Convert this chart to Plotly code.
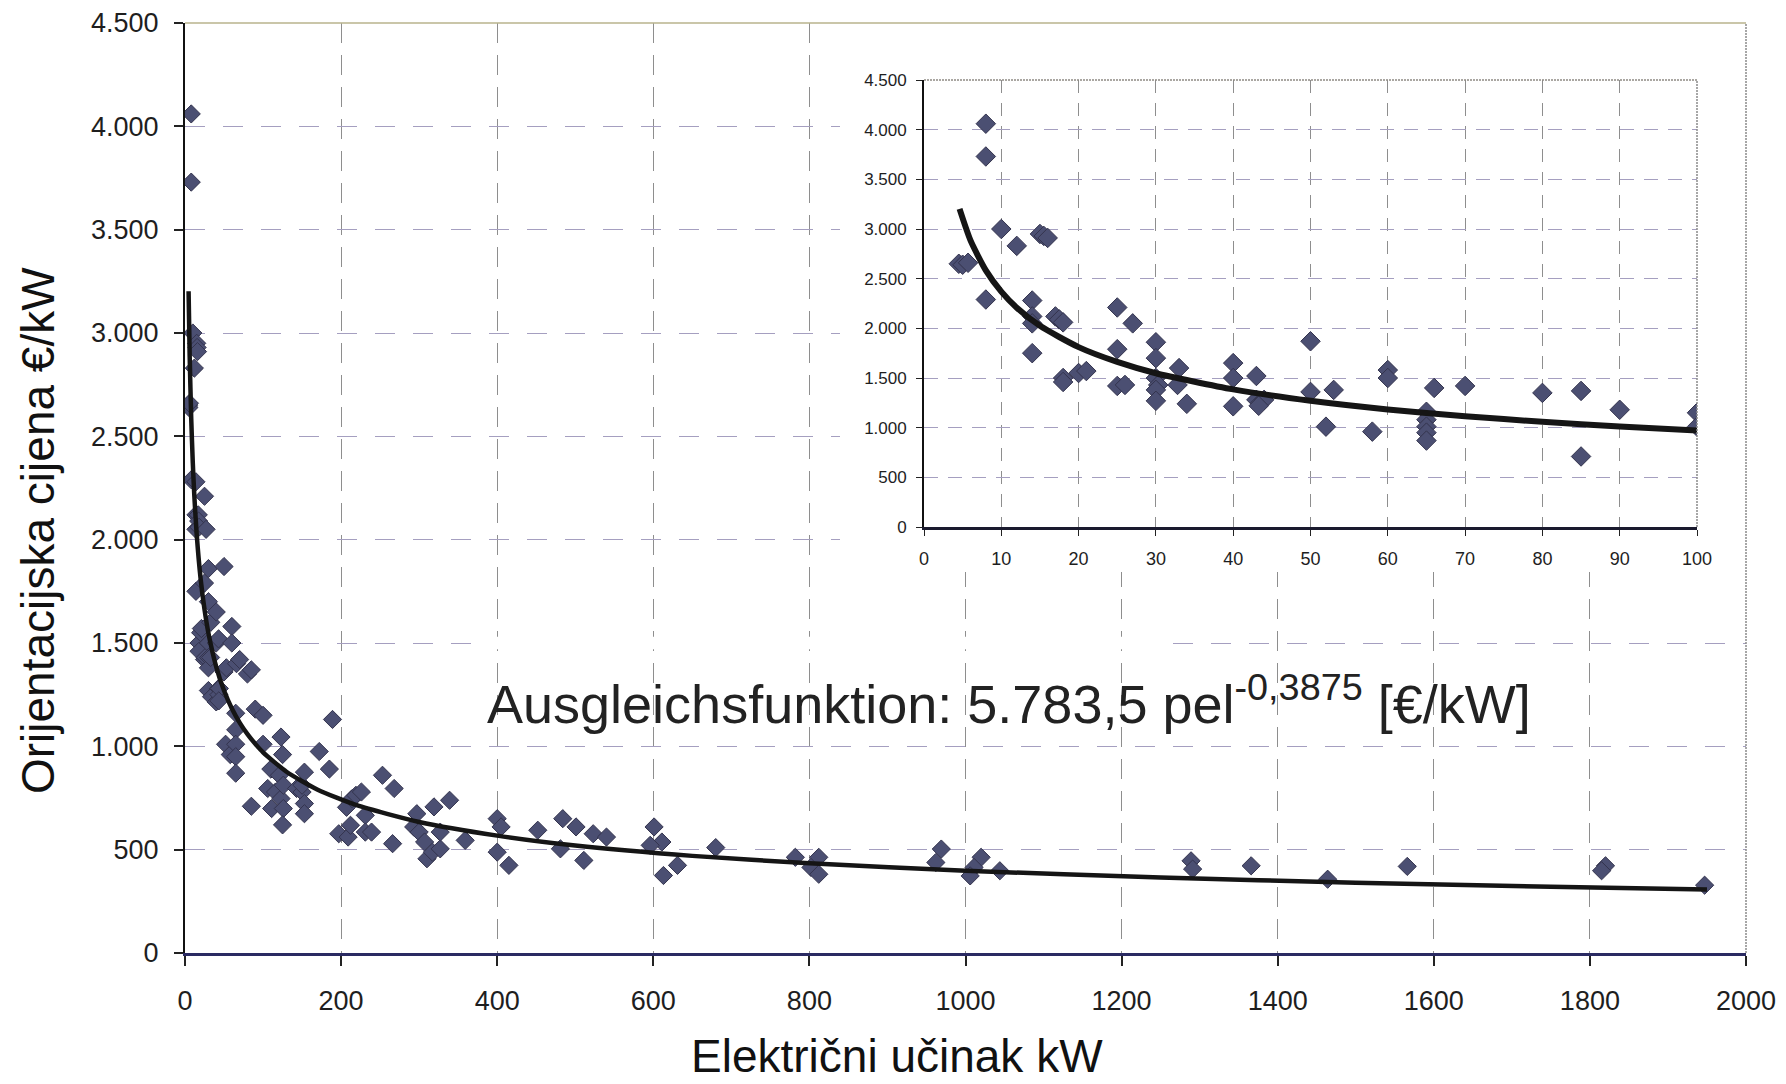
import plotly.graph_objects as go

# ---------------- data ----------------
power_kw = [
    4.5, 5, 5.7, 8, 8, 8, 10, 12, 15, 15.5, 16, 14, 14, 14, 14, 17, 17.5, 18, 18, 18,
    20, 21, 25, 27, 25, 25, 26, 30, 30, 30, 30.3, 30, 30, 33, 32.8, 34, 40, 40, 40,
    43, 43, 43.5, 44, 43.3, 50, 50, 52, 53, 58, 60, 60, 65, 65, 65, 65, 65, 66, 70,
    80, 85, 85, 90, 100, 100,
    106, 110, 111, 116, 121, 123, 123, 125, 126, 126, 125, 143, 150, 150, 153, 153, 153,
    172, 185, 189, 197, 207, 209, 212, 214, 219, 226, 231, 231, 239, 253, 268, 266,
    293, 297, 300, 307, 310, 317, 327, 319, 327, 339, 359, 400, 405, 400, 415, 452,
    484, 481, 501, 511, 523, 540, 601, 611, 596, 613, 631, 680, 782, 812, 802, 812,
    969, 962, 1020, 1011, 1006, 1044, 1289, 1291, 1366, 1464, 1566, 1820, 1815, 1947,
]
price_eur_kw = [
    2650, 2640, 2660, 4060, 3730, 2290, 3000, 2830, 2950, 2930, 2910, 2280, 2120, 2050, 1750, 2120, 2090, 2060, 1500, 1460,
    1550, 1570, 2210, 2050, 1790, 1420, 1430, 1860, 1700, 1500, 1430, 1380, 1270, 1600, 1430, 1240, 1650, 1500, 1215,
    1520, 1280, 1250, 1280, 1220, 1870, 1360, 1010, 1380, 960, 1580, 1500, 1160, 1080, 1010, 950, 870, 1400, 1420,
    1350, 1370, 710, 1180, 1150, 1010,
    796, 890, 699, 779, 860, 1045, 747, 960, 812, 699, 620, 796, 779, 812, 875, 723, 674,
    975, 890, 1130, 577, 705, 561, 618, 747, 763, 779, 666, 585, 585, 860, 796, 529,
    610, 674, 585, 537, 456, 488, 504, 707, 585, 739, 545, 650, 610, 488, 424, 594,
    650, 504, 610, 448, 577, 561, 610, 537, 521, 375, 424, 510, 463, 463, 414, 381,
    503, 438, 463, 414, 373, 398, 446, 406, 422, 357, 419, 422, 398, 328,
]

# trend curve values
trend_kw = [4.6, 6, 8, 10, 12, 15, 20, 25, 30, 40, 50, 60, 70, 80, 90, 100,
            130, 170, 220, 300, 400, 500, 650, 800, 1000, 1250, 1500, 1750, 1950]
trend_price = [3202, 2888, 2584, 2370, 2208, 2025, 1811, 1662, 1548, 1385, 1270, 1183, 1115, 1059, 1012, 971,
               877, 790, 715, 634, 568, 520, 470, 434, 398, 365, 340, 320, 307]

y_tickvals = [0, 500, 1000, 1500, 2000, 2500, 3000, 3500, 4000, 4500]
y_ticktext = ["0", "500", "1.000", "1.500", "2.000", "2.500", "3.000", "3.500", "4.000", "4.500"]
x_main_ticks = [0, 200, 400, 600, 800, 1000, 1200, 1400, 1600, 1800, 2000]
x_inset_ticks = [0, 10, 20, 30, 40, 50, 60, 70, 80, 90, 100]

inset_limit = 100
inset_kw = [k for k in power_kw if k <= inset_limit]
inset_price = [p for k, p in zip(power_kw, price_eur_kw) if k <= inset_limit]
inset_trend_kw = [k for k in trend_kw if k <= inset_limit]
inset_trend_price = [p for k, p in zip(trend_kw, trend_price) if k <= inset_limit]

# ---------------- layout helpers ----------------
W, H = 1786, 1084
FONT = "Liberation Sans, Arial, Helvetica, sans-serif"


def dx(p0, p1):
    return [p0 / W, p1 / W]


def dy(top, bottom):
    return [1 - bottom / H, 1 - top / H]


MARKER_COL = "#4b4f72"
MARKER_LINE = "#34344e"
HGRID = "#a59fc0"
VGRID = "#8e8e8e"

fig = go.Figure()

# main chart
fig.add_trace(go.Scatter(
    x=power_kw, y=price_eur_kw, mode="markers",
    marker=dict(symbol="diamond", size=14, color=MARKER_COL,
                line=dict(color=MARKER_LINE, width=1)),
    xaxis="x", yaxis="y", showlegend=False, hoverinfo="x+y"))
fig.add_trace(go.Scatter(
    x=trend_kw, y=trend_price, mode="lines",
    line=dict(color="#151515", width=4.5, shape="spline", smoothing=0.6),
    xaxis="x", yaxis="y", showlegend=False, hoverinfo="skip"))

# white cover behind the inset (empty subplot, its own background)
fig.add_trace(go.Scatter(x=[None], y=[None], mode="markers",
                         xaxis="x2", yaxis="y2", showlegend=False, hoverinfo="skip"))

# inset chart
fig.add_trace(go.Scatter(
    x=inset_kw, y=inset_price, mode="markers",
    marker=dict(symbol="diamond", size=15, color=MARKER_COL,
                line=dict(color=MARKER_LINE, width=1)),
    xaxis="x3", yaxis="y3", showlegend=False, hoverinfo="x+y"))
fig.add_trace(go.Scatter(
    x=inset_trend_kw, y=inset_trend_price, mode="lines",
    line=dict(color="#151515", width=6, shape="spline", smoothing=0.6),
    xaxis="x3", yaxis="y3", showlegend=False, hoverinfo="skip"))

fig.update_layout(
    width=W, height=H, autosize=False,
    margin=dict(l=0, r=0, t=0, b=0, pad=0, autoexpand=False),
    paper_bgcolor="white", plot_bgcolor="white",
    font=dict(family=FONT, color="#1e1e1e"),
    showlegend=False,
    xaxis=dict(
        domain=dx(185, 1746), anchor="y", range=[0, 2000], automargin=False,
        tickmode="array", tickvals=x_main_ticks,
        ticks="outside", ticklen=10, tickwidth=1.5, tickcolor="#222",
        ticklabelstandoff=12,
        tickfont=dict(size=27, family=FONT, color="#1e1e1e"),
        showgrid=True, gridcolor=VGRID, gridwidth=1, griddash="20px,12px",
        zeroline=False, showline=True, linecolor="#2a2a62", linewidth=2.5,
    ),
    yaxis=dict(
        domain=dy(23, 953), anchor="x", range=[0, 4500], automargin=False,
        tickmode="array", tickvals=y_tickvals, ticktext=y_ticktext,
        ticks="outside", ticklen=9, tickwidth=1.5, tickcolor="#222",
        ticklabelstandoff=10,
        tickfont=dict(size=27, family=FONT, color="#1e1e1e"),
        showgrid=True, gridcolor=HGRID, gridwidth=1.2, griddash="20px,18px",
        zeroline=False, showline=True, linecolor="#111", linewidth=2,
    ),
    xaxis2=dict(domain=dx(840, 1746), anchor="y2", range=[0, 1], automargin=False,
                showgrid=False, zeroline=False, showline=False,
                showticklabels=False, ticks="", fixedrange=True),
    yaxis2=dict(domain=dy(23, 572), anchor="x2", range=[0, 1], automargin=False,
                showgrid=False, zeroline=False, showline=False,
                showticklabels=False, ticks="", fixedrange=True),
    xaxis3=dict(
        domain=dx(924, 1697), anchor="y3", range=[0, 100], automargin=False,
        tickmode="array", tickvals=x_inset_ticks,
        ticks="outside", ticklen=6, tickwidth=1.2, tickcolor="#222",
        ticklabelstandoff=8,
        tickfont=dict(size=18, family=FONT, color="#1e1e1e"),
        showgrid=True, gridcolor=VGRID, gridwidth=1, griddash="13px,10px",
        zeroline=False, showline=True, linecolor="#1a1a2e", linewidth=2.5,
    ),
    yaxis3=dict(
        domain=dy(80, 527), anchor="x3", range=[0, 4500], automargin=False,
        tickmode="array", tickvals=y_tickvals, ticktext=y_ticktext,
        ticks="outside", ticklen=6, tickwidth=1.2, tickcolor="#222",
        ticklabelstandoff=6,
        tickfont=dict(size=17, family=FONT, color="#1e1e1e"),
        showgrid=True, gridcolor=HGRID, gridwidth=1.2, griddash="14px,10px",
        zeroline=False, showline=True, linecolor="#111", linewidth=1.8,
    ),
    shapes=[
        # main frame: top and right
        dict(type="line", xref="x domain", yref="y domain", x0=0, x1=1, y0=1, y1=1,
             line=dict(color="#b9b38c", width=1.5), layer="above"),
        dict(type="line", xref="x domain", yref="y domain", x0=1, x1=1, y0=0, y1=1,
             line=dict(color="#8a8a8a", width=1.5, dash="2px,1px"), layer="above"),
        # inset frame: top and right
        dict(type="line", xref="x3 domain", yref="y3 domain", x0=0, x1=1, y0=1, y1=1,
             line=dict(color="#8f8a84", width=1.5, dash="2px,1px"), layer="above"),
        dict(type="line", xref="x3 domain", yref="y3 domain", x0=1, x1=1, y0=0, y1=1,
             line=dict(color="#8a8a8a", width=1.5, dash="2px,1px"), layer="above"),
        # gap in the 1.500 grid line behind the formula
        dict(type="rect", xref="x", yref="y", x0=375, x1=1250, y0=1470, y1=1530,
             line=dict(width=0), fillcolor="white", layer="above"),
    ],
    annotations=[
        dict(text="Ausgleichsfunktion: 5.783,5 pel<sup>-0,3875</sup> [€/kW]",
             xref="paper", yref="paper", x=1009 / W, y=1 - 700 / H,
             xanchor="center", yanchor="middle", showarrow=False,
             font=dict(size=54, family=FONT, color="#222")),
        dict(text="Orijentacijska cijena €/kW", textangle=-90,
             xref="paper", yref="paper", x=38 / W, y=1 - 531 / H,
             xanchor="center", yanchor="middle", showarrow=False,
             font=dict(size=46, family=FONT, color="#111")),
        dict(text="Električni učinak kW",
             xref="paper", yref="paper", x=897 / W, y=0,
             xanchor="center", yanchor="bottom", showarrow=False,
             font=dict(size=46, family=FONT, color="#111")),
    ],
)

fig.write_html("out.html")
